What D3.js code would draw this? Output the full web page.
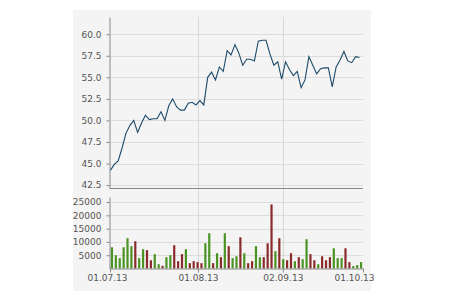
<!DOCTYPE html>
<html>
<head>
<meta charset="utf-8">
<script src="https://cdn.jsdelivr.net/npm/d3@7"></script>
<style>
  body { margin: 0; background: #fff; }
  text { font-family: "DejaVu Sans", sans-serif; font-size: 9px; fill: #555; }
</style>
</head>
<body>
<div id="chart"></div>
<script>
// closing prices, one per trading day
var prices = [44.2, 44.9, 45.3, 46.8, 48.5, 49.4, 50.0, 48.6, 49.7, 50.6, 50.1, 50.2,
  50.2, 51.0, 50.0, 51.7, 52.5, 51.6, 51.2, 51.2, 52.0, 52.1, 51.8, 52.3, 51.8,
  55.0, 55.6, 54.7, 56.2, 55.7, 58.1, 57.6, 58.8, 57.8, 56.4, 57.1, 57.1, 56.9,
  59.2, 59.3, 59.3, 57.7, 56.4, 56.8, 54.8, 56.8, 55.9, 55.2, 55.7, 53.8, 54.7,
  57.4, 56.4, 55.4, 56.0, 56.1, 56.1, 53.9, 56.2, 57.0, 58.0, 56.9, 56.7, 57.4, 57.3];

// volume per day and direction (1 = up / green, 0 = down / red)
var volumes = [8000, 5000, 3900, 8000, 11400, 8400, 10250, 3900, 7250, 6900, 3100, 5400,
  1600, 1000, 4250, 5000, 8750, 2750, 5400, 7250, 2000, 2750, 2400, 2000, 9500,
  13250, 2000, 5750, 4250, 13250, 8400, 3900, 4600, 11750, 5750, 2000, 2750, 8400,
  4250, 4250, 9500, 24100, 6500, 11400, 3500, 3100, 5750, 2750, 4250, 3500, 11000,
  5400, 3100, 1600, 4600, 3100, 4250, 7600, 3900, 3900, 7600, 2400, 900, 1250, 2400];
var upDays = [1, 1, 1, 1, 1, 1, 0, 1, 1, 0, 0, 1, 1, 0, 1, 1, 0, 0, 0, 1, 0, 0, 0, 0, 1,
  1, 0, 1, 0, 1, 0, 1, 1, 0, 1, 0, 0, 1, 1, 0, 0, 0, 1, 0, 1, 0, 0, 1, 0, 1, 1,
  0, 0, 1, 0, 0, 0, 1, 1, 1, 0, 0, 1, 1, 1];

// date ticks (position in trading-day index) and labels
var tickIndex = [0, 22.6, 44.4, 65];
var tickLabels = ["01.07.13", "01.08.13", "02.09.13", "01.10.13"];
var priceTicks = [42.5, 45, 47.5, 50, 52.5, 55, 57.5, 60];
var volumeTicks = [5000, 10000, 15000, 20000, 25000];

var width = 450, height = 300;
var left = 110, right = 363;
var priceTop = 17, priceBottom = 188.5;
var volTop = 197, volBottom = 268.5;

var svg = d3.select("#chart").append("svg")
  .attr("width", width)
  .attr("height", height);

// grey panel behind everything
svg.append("rect")
  .attr("x", 73).attr("y", 10)
  .attr("width", 298).attr("height", 281)
  .attr("fill", "#f4f4f4");

var x = d3.scaleLinear().domain([0, prices.length]).range([left, right]);
var bw = x(1) - x(0);

var y = d3.scaleLinear().domain([42.1, 62.0]).range([priceBottom, priceTop]);
var yv = d3.scaleLinear().domain([0, 26900]).range([volBottom, volTop]);

// horizontal grid, price
svg.append("g")
  .selectAll("line")
  .data(priceTicks)
  .enter().append("line")
    .attr("x1", left).attr("x2", right)
    .attr("y1", function(d) { return Math.round(y(d)) + 0.5; })
    .attr("y2", function(d) { return Math.round(y(d)) + 0.5; })
    .attr("stroke", "#dcdcdc");

// horizontal grid, volume
svg.append("g")
  .selectAll("line")
  .data(volumeTicks)
  .enter().append("line")
    .attr("x1", left).attr("x2", right)
    .attr("y1", function(d) { return Math.round(yv(d)) + 0.5; })
    .attr("y2", function(d) { return Math.round(yv(d)) + 0.5; })
    .attr("stroke", "#dcdcdc");

// vertical grid at inner date ticks
svg.append("g")
  .selectAll("line")
  .data(tickIndex.slice(1, 3))
  .enter().append("line")
    .attr("x1", function(d) { return Math.round(x(d)) + 0.5; })
    .attr("x2", function(d) { return Math.round(x(d)) + 0.5; })
    .attr("y1", priceTop).attr("y2", volBottom)
    .attr("stroke", "#d8d8d8");

// volume bars
svg.append("g")
  .selectAll("rect")
  .data(volumes)
  .enter().append("rect")
    .attr("x", function(d, i) { return x(i) + bw * 0.22; })
    .attr("width", bw * 0.56)
    .attr("y", function(d) { return yv(d); })
    .attr("height", function(d) { return volBottom - yv(d); })
    .attr("fill", function(d, i) { return upDays[i] ? "#4a9322" : "#8a2a2a"; });

// price line
var line = d3.line()
  .x(function(d, i) { return x(i) + bw * 0.1; })
  .y(function(d) { return y(d); });

svg.append("path")
  .datum(prices)
  .attr("fill", "none")
  .attr("stroke", "#1d4b6a")
  .attr("stroke-width", 1.1)
  .attr("d", line);

// axes
var yAxis = d3.axisLeft(y).tickValues(priceTicks).tickFormat(d3.format(".1f"))
  .tickSize(3).tickSizeOuter(0).tickPadding(5);
var gy = svg.append("g")
  .attr("transform", "translate(" + (left - 0.5) + ",0)")
  .call(yAxis);

var yvAxis = d3.axisLeft(yv).tickValues(volumeTicks).tickFormat(d3.format("d"))
  .tickSize(3).tickSizeOuter(0).tickPadding(5);
var gyv = svg.append("g")
  .attr("transform", "translate(" + (left - 0.5) + ",0)")
  .call(yvAxis);

// bottom line of price panel
svg.append("line")
  .attr("x1", left).attr("x2", right)
  .attr("y1", priceBottom).attr("y2", priceBottom)
  .attr("stroke", "#888");

var xAxis = d3.axisBottom(x).tickValues(tickIndex)
  .tickFormat(function(d, i) { return tickLabels[i]; })
  .tickSize(4).tickSizeOuter(0).tickPadding(2);
var gx = svg.append("g")
  .attr("transform", "translate(0," + volBottom + ")")
  .call(xAxis);

gx.selectAll("text")
  .attr("dx", function(d, i) { return i === 0 ? -3 : (i === 3 ? -9 : 0); });

[gy, gyv, gx].forEach(function(g) {
  g.select(".domain").attr("stroke", "#888");
  g.selectAll(".tick line").attr("stroke", "#888");
  g.selectAll("text").style("font-size", "9px").attr("fill", "#555");
});
</script>
</body>
</html>
